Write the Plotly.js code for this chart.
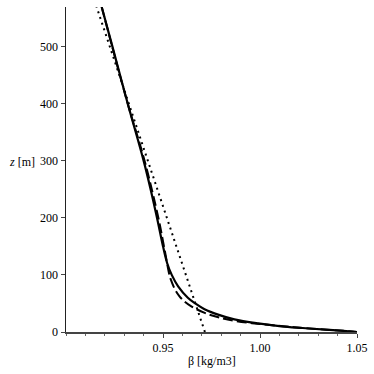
<!DOCTYPE html>
<html>
<head>
<meta charset="utf-8">
<script src="https://cdn.plot.ly/plotly-3.0.1.min.js"></script>
<style>
  html, body { margin: 0; padding: 0; background: #fff; }
  #plot { width: 374px; height: 374px; }
</style>
</head>
<body>
<div id="plot"></div>
<script>
// height z [m]
var zSolid = [569, 500, 400, 300, 250, 200, 150, 120, 100, 80, 60, 50, 40, 30, 22, 15, 10, 7, 4, 2, 0];
var betaSolid = [0.9184, 0.9239, 0.9318, 0.9400, 0.9436, 0.9469, 0.9500, 0.9522, 0.9545, 0.9578, 0.9628, 0.9666, 0.9714, 0.9788, 0.9868, 0.9990, 1.0110, 1.0220, 1.0340, 1.0430, 1.0500];

var zDash = [569, 400, 300, 200, 150, 100, 92, 75, 63, 55, 45, 33, 25, 19, 14, 10, 7, 4, 2, 0];
var betaDash = [0.9184, 0.9318, 0.9405, 0.9476, 0.9505, 0.9533, 0.9540, 0.9561, 0.9584, 0.9606, 0.9646, 0.9718, 0.9794, 0.9880, 1.0000, 1.0120, 1.0225, 1.0340, 1.0430, 1.0500];

var zDot = [0, 100, 200, 300, 400, 500, 575];
var betaDot = [0.9716, 0.9618, 0.9520, 0.9422, 0.9324, 0.9226, 0.9152];

var xTicks = [0.95, 1.00, 1.05];
var xTickText = ['0.95', '1.00', '1.05'];
var yTicks = [0, 100, 200, 300, 400, 500];

var serif = 'Liberation Serif, Times New Roman, serif';

var traces = [
  {
    x: betaDot, y: zDot, type: 'scatter', mode: 'lines',
    line: { color: 'black', width: 2, dash: '2px,4px' }
  },
  {
    x: betaDash, y: zDash, type: 'scatter', mode: 'lines',
    line: { color: 'black', width: 2, dash: '10px,4px', shape: 'spline', smoothing: 1 }
  },
  {
    x: betaSolid, y: zSolid, type: 'scatter', mode: 'lines',
    line: { color: 'black', width: 2.2, shape: 'spline', smoothing: 1 }
  }
];

var layout = {
  width: 374,
  height: 374,
  showlegend: false,
  paper_bgcolor: 'white',
  plot_bgcolor: 'white',
  font: { family: serif, size: 12, color: 'black' },
  margin: { t: 7, l: 66, r: 17, b: 41.5 },
  xaxis: {
    range: [0.90, 1.05],
    tickmode: 'array',
    tickvals: xTicks,
    ticktext: xTickText,
    ticks: 'outside',
    ticklen: 4,
    tickcolor: '#444',
    showgrid: false,
    zeroline: false,
    showline: true,
    linecolor: '#444',
    linewidth: 1.5,
    tickfont: { family: serif, size: 12, color: 'black' },
    minor: { tickmode: 'linear', tick0: 0.9, dtick: 0.01, ticks: 'outside', ticklen: 2, tickcolor: '#666', showgrid: false }
  },
  yaxis: {
    range: [0, 569],
    tickmode: 'array',
    tickvals: yTicks,
    ticks: 'outside',
    ticklen: 4,
    tickcolor: '#444',
    showgrid: false,
    zeroline: false,
    showline: true,
    linecolor: '#222',
    linewidth: 1.5,
    tickfont: { family: serif, size: 12, color: 'black' }
  },
  annotations: [
    {
      text: 'β [kg/m3]', xref: 'paper', yref: 'paper',
      x: 0.5, y: -0.0906, xanchor: 'center', yanchor: 'middle',
      showarrow: false, font: { family: serif, size: 12, color: 'black' }
    },
    {
      text: '<i>z</i> [m]', xref: 'paper', yref: 'paper',
      x: -0.151, y: 0.524, xanchor: 'center', yanchor: 'middle',
      showarrow: false, font: { family: serif, size: 12, color: 'black' }
    }
  ]
};

Plotly.newPlot('plot', traces, layout, { displayModeBar: false, staticPlot: true });
</script>
</body>
</html>
